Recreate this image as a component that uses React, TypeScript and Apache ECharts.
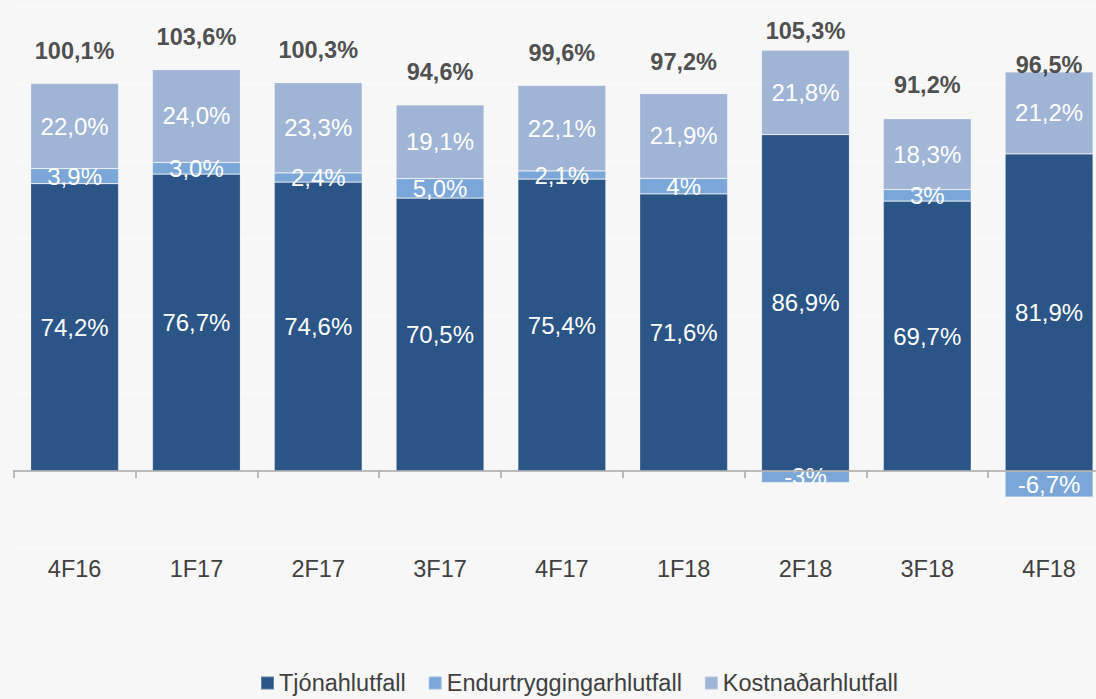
import React, { useEffect, useRef } from "react";
import * as echarts from "echarts";

const categories = ["4F16", "1F17", "2F17", "3F17", "4F17", "1F18", "2F18", "3F18", "4F18"];
const tjonValues = [74.2, 76.7, 74.6, 70.5, 75.4, 71.6, 86.9, 69.7, 81.9];
const tjonLabels = ["74,2%", "76,7%", "74,6%", "70,5%", "75,4%", "71,6%", "86,9%", "69,7%", "81,9%"];
const endurValues = [3.9, 3.0, 2.4, 5.0, 2.1, 4, -3, 3, -6.7];
const endurLabels = ["3,9%", "3,0%", "2,4%", "5,0%", "2,1%", "4%", "-3%", "3%", "-6,7%"];
const kostnValues = [22.0, 24.0, 23.3, 19.1, 22.1, 21.9, 21.8, 18.3, 21.2];
const kostnLabels = ["22,0%", "24,0%", "23,3%", "19,1%", "22,1%", "21,9%", "21,8%", "18,3%", "21,2%"];
const totalValues = [100.1, 103.6, 100.3, 94.6, 99.6, 97.2, 105.3, 91.2, 96.5];
const totalLabels = ["100,1%", "103,6%", "100,3%", "94,6%", "99,6%", "97,2%", "105,3%", "91,2%", "96,5%"];
const seriesNames = ["Tjónahlutfall", "Endurtryggingarhlutfall", "Kostnaðarhlutfall"];

const FONT = "'Liberation Sans', Arial, sans-serif";

export default function App() {
  const ref = useRef<HTMLDivElement>(null);
  useEffect(() => {
    if (!ref.current) return;
    const chart = echarts.init(ref.current, undefined, { renderer: "svg" });
    const barLabel = (labels: string[]) => ({
      show: true,
      position: "inside",
      color: "#ffffff",
      fontSize: 24,
      fontFamily: FONT,
      formatter: (p: any) => labels[p.dataIndex],
    });
    const border = { borderColor: "rgba(255,255,255,0.25)", borderWidth: 0.75 };
    chart.setOption({
      animation: false,
      backgroundColor: "#f7f7f7",
      textStyle: { fontFamily: FONT },
      grid: { left: 13.7, right: 0, top: 6.4, bottom: 150.5, containLabel: false },
      legend: {
        data: seriesNames,
        left: 255,
        top: 666,
        icon: "rect",
        itemWidth: 13,
        itemHeight: 13,
        itemGap: 22,
        textStyle: { fontSize: 23.5, color: "#404040", fontFamily: FONT },
      },
      xAxis: {
        type: "category",
        data: categories,
        boundaryGap: true,
        axisLine: { onZero: true, lineStyle: { color: "#a6a6a6", width: 1.5 } },
        axisTick: { show: true, length: 7, lineStyle: { color: "#a6a6a6", width: 1.5 } },
        axisLabel: { margin: 8, fontSize: 23.5, color: "#404040", fontFamily: FONT },
        z: 5,
      },
      yAxis: {
        type: "value",
        min: -20,
        max: 120,
        interval: 20,
        axisLabel: { show: false },
        axisLine: { show: false },
        axisTick: { show: false },
        splitLine: { show: true, lineStyle: { color: "#ffffff", width: 1, type: [5, 3] } },
      },
      series: [
        {
          name: seriesNames[0],
          type: "bar",
          stack: "total",
          barWidth: 88,
          data: tjonValues,
          itemStyle: { color: "#2b5586", ...border },
          label: barLabel(tjonLabels),
        },
        {
          name: seriesNames[1],
          type: "bar",
          stack: "total",
          barWidth: 88,
          data: endurValues,
          itemStyle: { color: "#7ba7d8", ...border },
          label: barLabel(endurLabels),
        },
        {
          name: seriesNames[2],
          type: "bar",
          stack: "total",
          barWidth: 88,
          data: kostnValues,
          itemStyle: { color: "#a0b4d6", ...border },
          label: barLabel(kostnLabels),
        },
        {
          name: "total",
          type: "scatter",
          data: totalValues,
          symbolSize: 1,
          itemStyle: { color: "transparent" },
          z: 10,
          label: {
            show: true,
            position: "top",
            distance: 20,
            color: "#222222",
            fontSize: 23.5,
            fontWeight: "bold",
            fontFamily: FONT,
            formatter: (p: any) => totalLabels[p.dataIndex],
          },
          emphasis: { disabled: true },
        },
      ],
    });
    return () => chart.dispose();
  }, []);
  return (
    <div
      style={{ position: "fixed", left: 0, top: 0, width: 1096, height: 699, overflow: "hidden" }}
    >
      <div ref={ref} style={{ width: 1110, height: 699 }} />
    </div>
  );
}
